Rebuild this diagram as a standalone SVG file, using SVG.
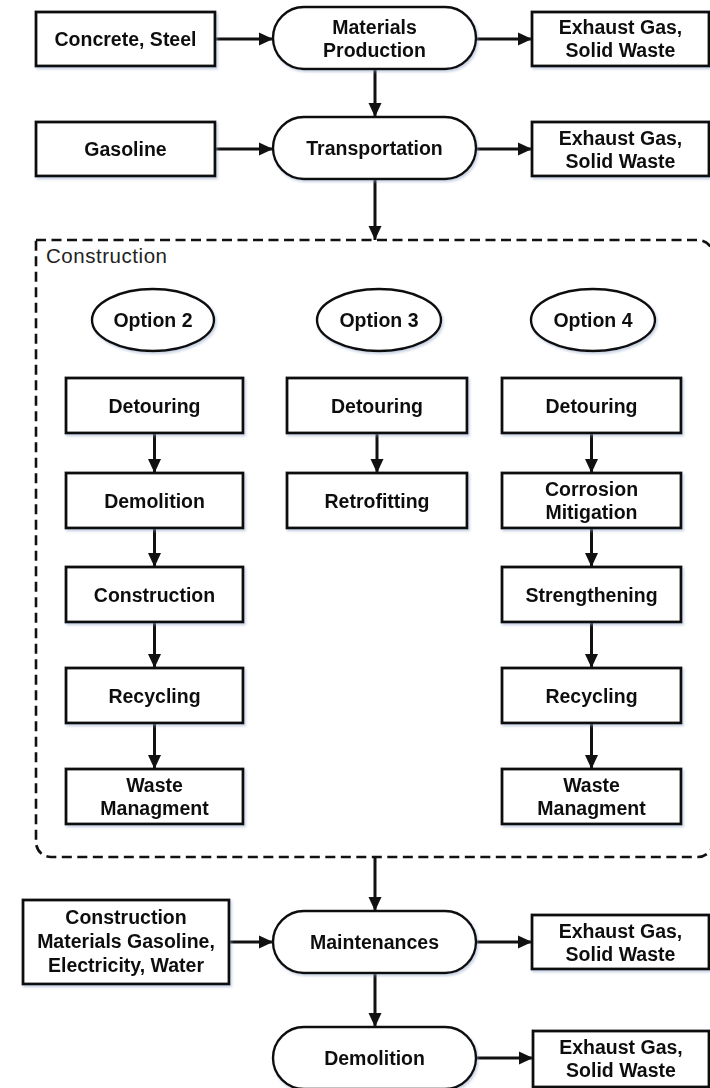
<svg xmlns="http://www.w3.org/2000/svg" width="710" height="1088" viewBox="0 0 710 1088">
  <style>
    .box { fill: #ffffff; stroke: #111111; stroke-width: 2.8; }
    .pill { fill: #ffffff; stroke: #111111; stroke-width: 2.4; }
    .oval { fill: #ffffff; stroke: #111111; stroke-width: 2.4; }
    .lbl { font-family: "Liberation Sans", Arial, sans-serif; font-weight: bold; font-size: 19.5px; fill: #111111; text-anchor: middle; }
    .grp { font-family: "Liberation Sans", Arial, sans-serif; font-size: 20.5px; fill: #222222; }
    .edge { fill: none; stroke: #111111; stroke-width: 3; marker-end: url(#head); }
    .frame { fill: none; stroke: #111111; stroke-width: 2.6; stroke-dasharray: 10 5.5; }
  </style>
  <defs>
    <marker id="head" markerUnits="userSpaceOnUse" markerWidth="15" markerHeight="14" refX="14" refY="7" orient="auto">
      <path d="M0,0.5 L14,7 L0,13.5 Z" fill="#111111"/>
    </marker>
    <filter id="soft" x="-10%" y="-10%" width="130%" height="140%">
      <feDropShadow dx="1.5" dy="2" stdDeviation="1.3" flood-color="#8ea2c4" flood-opacity="0.45"/>
    </filter>
  </defs>

  <rect width="710" height="1088" fill="#ffffff"/>

  <!-- construction phase container -->
  <g id="construction-group">
    <path class="frame" d="M36,240 H698 A15,15 0 0 1 713,255 V842 A15,15 0 0 1 698,857 H51 A15,15 0 0 1 36,842 Z"/>
    <text class="grp" x="46" y="263" textLength="121" lengthAdjust="spacing">Construction</text>
  </g>

  <!-- connectors -->
  <g id="connectors">
    <line class="edge" x1="215" y1="39" x2="273" y2="39"/>
    <line class="edge" x1="476" y1="39" x2="532" y2="39"/>
    <line class="edge" x1="375" y1="69" x2="375" y2="117"/>
    <line class="edge" x1="215" y1="149" x2="273" y2="149"/>
    <line class="edge" x1="476" y1="149" x2="532" y2="149"/>
    <line class="edge" x1="375" y1="179" x2="375" y2="240"/>

    <line class="edge" x1="154.5" y1="433" x2="154.5" y2="473"/>
    <line class="edge" x1="154.5" y1="528" x2="154.5" y2="567"/>
    <line class="edge" x1="154.5" y1="622" x2="154.5" y2="668"/>
    <line class="edge" x1="154.5" y1="723" x2="154.5" y2="769"/>

    <line class="edge" x1="377" y1="433" x2="377" y2="473"/>

    <line class="edge" x1="591.5" y1="433" x2="591.5" y2="473"/>
    <line class="edge" x1="591.5" y1="528" x2="591.5" y2="567"/>
    <line class="edge" x1="591.5" y1="622" x2="591.5" y2="668"/>
    <line class="edge" x1="591.5" y1="723" x2="591.5" y2="769"/>

    <line class="edge" x1="375" y1="857" x2="375" y2="911"/>
    <line class="edge" x1="229" y1="942" x2="273" y2="942"/>
    <line class="edge" x1="476" y1="942" x2="532" y2="942"/>
    <line class="edge" x1="375" y1="973" x2="375" y2="1027"/>
    <line class="edge" x1="476" y1="1058" x2="533" y2="1058"/>
  </g>

  <!-- materials production row -->
  <g id="concrete-steel" filter="url(#soft)">
    <rect class="box" x="36" y="12" width="179" height="54"/>
    <text class="lbl" x="125.5" y="46">Concrete, Steel</text>
  </g>
  <g id="materials-production" filter="url(#soft)">
    <rect class="pill" x="273" y="7" width="203" height="62" rx="31" ry="31"/>
    <text class="lbl" x="374.5" y="33.5">Materials</text>
    <text class="lbl" x="374.5" y="56.5">Production</text>
  </g>
  <g id="waste-production" filter="url(#soft)">
    <rect class="box" x="532" y="12" width="177" height="54"/>
    <text class="lbl" x="620.5" y="33.5">Exhaust Gas,</text>
    <text class="lbl" x="620.5" y="56.5">Solid Waste</text>
  </g>

  <!-- transportation row -->
  <g id="gasoline" filter="url(#soft)">
    <rect class="box" x="36" y="122" width="179" height="54"/>
    <text class="lbl" x="125.5" y="156">Gasoline</text>
  </g>
  <g id="transportation" filter="url(#soft)">
    <rect class="pill" x="273" y="117" width="203" height="62" rx="31" ry="31"/>
    <text class="lbl" x="374.5" y="155">Transportation</text>
  </g>
  <g id="waste-transportation" filter="url(#soft)">
    <rect class="box" x="532" y="122" width="177" height="54"/>
    <text class="lbl" x="620.5" y="144.5">Exhaust Gas,</text>
    <text class="lbl" x="620.5" y="167.5">Solid Waste</text>
  </g>

  <!-- option headers -->
  <g id="option-2" filter="url(#soft)">
    <ellipse class="oval" cx="153" cy="320" rx="61" ry="31"/>
    <text class="lbl" x="153" y="327">Option 2</text>
  </g>
  <g id="option-3" filter="url(#soft)">
    <ellipse class="oval" cx="379" cy="320" rx="62" ry="31"/>
    <text class="lbl" x="379" y="327">Option 3</text>
  </g>
  <g id="option-4" filter="url(#soft)">
    <ellipse class="oval" cx="593" cy="320" rx="62" ry="31"/>
    <text class="lbl" x="593" y="327">Option 4</text>
  </g>

  <!-- option 2 steps -->
  <g id="opt2-detouring" filter="url(#soft)">
    <rect class="box" x="66" y="378" width="177" height="55"/>
    <text class="lbl" x="154.5" y="412.5">Detouring</text>
  </g>
  <g id="opt2-demolition" filter="url(#soft)">
    <rect class="box" x="66" y="473" width="177" height="55"/>
    <text class="lbl" x="154.5" y="507.5">Demolition</text>
  </g>
  <g id="opt2-construction" filter="url(#soft)">
    <rect class="box" x="66" y="567" width="177" height="55"/>
    <text class="lbl" x="154.5" y="601.5">Construction</text>
  </g>
  <g id="opt2-recycling" filter="url(#soft)">
    <rect class="box" x="66" y="668" width="177" height="55"/>
    <text class="lbl" x="154.5" y="702.5">Recycling</text>
  </g>
  <g id="opt2-waste" filter="url(#soft)">
    <rect class="box" x="66" y="769" width="177" height="55"/>
    <text class="lbl" x="154.5" y="792">Waste</text>
    <text class="lbl" x="154.5" y="815">Managment</text>
  </g>

  <!-- option 3 steps -->
  <g id="opt3-detouring" filter="url(#soft)">
    <rect class="box" x="287" y="378" width="180" height="55"/>
    <text class="lbl" x="377" y="412.5">Detouring</text>
  </g>
  <g id="opt3-retrofitting" filter="url(#soft)">
    <rect class="box" x="287" y="473" width="180" height="55"/>
    <text class="lbl" x="377" y="507.5">Retrofitting</text>
  </g>

  <!-- option 4 steps -->
  <g id="opt4-detouring" filter="url(#soft)">
    <rect class="box" x="502" y="378" width="179" height="55"/>
    <text class="lbl" x="591.5" y="412.5">Detouring</text>
  </g>
  <g id="opt4-corrosion" filter="url(#soft)">
    <rect class="box" x="502" y="473" width="179" height="55"/>
    <text class="lbl" x="591.5" y="496">Corrosion</text>
    <text class="lbl" x="591.5" y="519">Mitigation</text>
  </g>
  <g id="opt4-strengthening" filter="url(#soft)">
    <rect class="box" x="502" y="567" width="179" height="55"/>
    <text class="lbl" x="591.5" y="601.5">Strengthening</text>
  </g>
  <g id="opt4-recycling" filter="url(#soft)">
    <rect class="box" x="502" y="668" width="179" height="55"/>
    <text class="lbl" x="591.5" y="702.5">Recycling</text>
  </g>
  <g id="opt4-waste" filter="url(#soft)">
    <rect class="box" x="502" y="769" width="179" height="55"/>
    <text class="lbl" x="591.5" y="792">Waste</text>
    <text class="lbl" x="591.5" y="815">Managment</text>
  </g>

  <!-- maintenance row -->
  <g id="maintenance-inputs" filter="url(#soft)">
    <rect class="box" x="23" y="900" width="206" height="84"/>
    <text class="lbl" x="126" y="924">Construction</text>
    <text class="lbl" x="126" y="948">Materials Gasoline,</text>
    <text class="lbl" x="126" y="972">Electricity, Water</text>
  </g>
  <g id="maintenances" filter="url(#soft)">
    <rect class="pill" x="273" y="911" width="203" height="62" rx="31" ry="31"/>
    <text class="lbl" x="374.5" y="949">Maintenances</text>
  </g>
  <g id="waste-maintenance" filter="url(#soft)">
    <rect class="box" x="532" y="915" width="177" height="54"/>
    <text class="lbl" x="620.5" y="937.5">Exhaust Gas,</text>
    <text class="lbl" x="620.5" y="960.5">Solid Waste</text>
  </g>

  <!-- end-of-life row -->
  <g id="demolition" filter="url(#soft)">
    <rect class="pill" x="273" y="1027" width="203" height="62" rx="31" ry="31"/>
    <text class="lbl" x="374.5" y="1065">Demolition</text>
  </g>
  <g id="waste-demolition" filter="url(#soft)">
    <rect class="box" x="533" y="1031" width="176" height="56"/>
    <text class="lbl" x="621" y="1054">Exhaust Gas,</text>
    <text class="lbl" x="621" y="1077">Solid Waste</text>
  </g>
</svg>
